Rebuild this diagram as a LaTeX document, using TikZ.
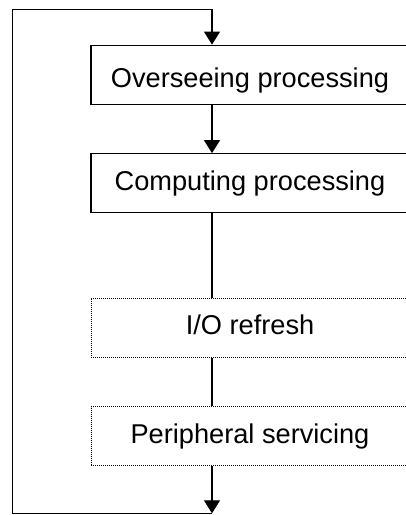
\documentclass[tikz,border=0pt]{standalone}
\usepackage{fontspec}
\setmainfont{Liberation Sans}
\usetikzlibrary{arrows.meta,calc}

\tikzset{
    procbox/.style={draw, rectangle, minimum width=318pt, minimum height=59pt,
        text height=20pt, text depth=6pt, inner sep=0pt,
        font=\fontsize{27.2}{32}\selectfont},
    solidbox/.style={procbox, line width=1.2pt},
    dotbox/.style={procbox, line width=1pt, dash pattern=on 1pt off 1pt},
    flow/.style={line width=1.2pt},
    flowarrow/.style={flow, -{Triangle[width=16pt,length=13pt]}}
}

\begin{document}
\begin{tikzpicture}[x=1pt,y=1pt]
    \useasboundingbox (0,0) rectangle (406,-515);

    % Processing steps
    \node[solidbox, text height=26pt, text depth=0pt] (over) at (250,-74.7) {Overseeing processing};
    \node[solidbox] (comp) at (250,-183.2) {Computing processing};
    \node[dotbox] (io) at (250,-327.7) {I/O refresh};
    \node[dotbox] (peri) at (250,-436.2) {Peripheral servicing};

    % Loop points
    \coordinate (spine) at (212,0);
    \coordinate (looptop) at (212,-9.3);
    \coordinate (loopbot) at (212,-513.3);
    \coordinate (loopleft) at (12.3,0);

    % Connectors
    \draw[flowarrow] (over.south -| spine) -- (comp.north -| spine);
    \draw[flow] (comp.south -| spine) -- (io.north -| spine);
    \draw[flow] (io.south -| spine) -- (peri.north -| spine);
    \draw[flowarrow] (peri.south -| spine) -- (loopbot);

    % Return loop
    \draw[flowarrow] (loopbot) -- (loopbot -| loopleft) |- (looptop) -- (over.north -| spine);
\end{tikzpicture}
\end{document}
